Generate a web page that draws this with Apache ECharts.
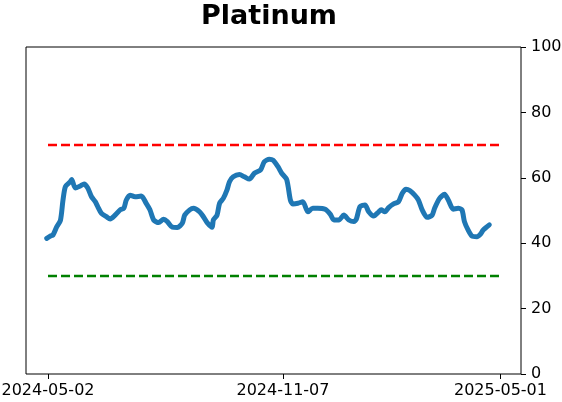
<!DOCTYPE html>
<html>
<head>
<meta charset="utf-8">
<script src="https://cdn.jsdelivr.net/npm/echarts@6/dist/echarts.min.js"></script>
<style>
  html, body { margin: 0; padding: 0; background: #fff; }
  #chart { width: 562px; height: 402px; }
</style>
</head>
<body>
<div id="chart"></div>
<script>
// Data
const dates = [
  '2024-05-01', '2024-05-04', '2024-05-06', '2024-05-09', '2024-05-12', '2024-05-14', '2024-05-16', '2024-05-20',
  '2024-05-21', '2024-05-24', '2024-05-28', '2024-05-31', '2024-06-03', '2024-06-06', '2024-06-09', '2024-06-11',
  '2024-06-14', '2024-06-18', '2024-06-21', '2024-06-25', '2024-06-29', '2024-07-02', '2024-07-04', '2024-07-07',
  '2024-07-11', '2024-07-16', '2024-07-20', '2024-07-23', '2024-07-26', '2024-07-30', '2024-08-03', '2024-08-06',
  '2024-08-10', '2024-08-14', '2024-08-18', '2024-08-20', '2024-08-24', '2024-08-27', '2024-09-01', '2024-09-04',
  '2024-09-07', '2024-09-11', '2024-09-12', '2024-09-15', '2024-09-17', '2024-09-20', '2024-09-23', '2024-09-25',
  '2024-09-28', '2024-10-03', '2024-10-07', '2024-10-11', '2024-10-15', '2024-10-20', '2024-10-23', '2024-10-27',
  '2024-10-30', '2024-11-03', '2024-11-06', '2024-11-10', '2024-11-13', '2024-11-15', '2024-11-19', '2024-11-23',
  '2024-11-27', '2024-12-01', '2024-12-05', '2024-12-11', '2024-12-15', '2024-12-18', '2024-12-22', '2024-12-26',
  '2024-12-30', '2025-01-03', '2025-01-05', '2025-01-08', '2025-01-12', '2025-01-15', '2025-01-19', '2025-01-23',
  '2025-01-25', '2025-01-28', '2025-01-31', '2025-02-04', '2025-02-08', '2025-02-11', '2025-02-14', '2025-02-17',
  '2025-02-21', '2025-02-24', '2025-02-27', '2025-03-03', '2025-03-07', '2025-03-09', '2025-03-13', '2025-03-17',
  '2025-03-20', '2025-03-24', '2025-03-28', '2025-03-31', '2025-04-02', '2025-04-05', '2025-04-08', '2025-04-12',
  '2025-04-15', '2025-04-17', '2025-04-20', '2025-04-22'
];
const values = [
  41.5, 42.2, 42.5, 45.0, 47.0, 53.0, 57.3, 58.8,
  59.5, 56.9, 57.5, 58.1, 56.9, 54.2, 52.7, 51.2,
  49.1, 48.1, 47.4, 48.6, 50.2, 50.7, 53.2, 54.7,
  54.2, 54.4, 52.2, 50.2, 47.1, 46.3, 47.3, 46.6,
  44.9, 44.8, 46.1, 48.6, 50.2, 50.7, 49.6, 48.1,
  46.3, 44.9, 47.1, 48.6, 52.2, 53.7, 56.3, 58.8,
  60.3, 61.0, 60.3, 59.6, 61.4, 62.4, 64.9, 65.7,
  65.4, 63.4, 61.4, 59.5, 53.2, 52.0, 52.2, 52.7,
  49.6, 50.7, 50.7, 50.4, 48.9, 47.1, 47.1, 48.6,
  47.1, 46.6, 47.3, 51.2, 51.7, 49.6, 48.3, 49.6,
  50.2, 49.6, 50.9, 52.0, 52.7, 55.3, 56.5, 56.1,
  54.7, 53.2, 50.2, 47.9, 48.6, 50.7, 53.7, 55.0,
  53.2, 50.4, 50.7, 50.2, 46.6, 44.0, 42.2, 42.0,
  42.8, 44.0, 45.0, 45.6
];
const tickLabels = ['2024-05-02', '2024-11-07', '2025-05-01'];
const upperLevel = 70;
const lowerLevel = 30;

const DAY = 864e5;
const start = Date.parse(tickLabels[0]);
const toDay = d => (Date.parse(d) - start) / DAY;
const tickDays = tickLabels.map(toDay);
const firstDay = tickDays[0];
const lastDay = tickDays[tickDays.length - 1];

const chart = echarts.init(document.getElementById('chart'));

chart.setOption({
  animation: false,
  title: {
    text: 'Platinum',
    left: 264,
    top: -2,
    textAlign: 'center',
    textStyle: { fontFamily: 'DejaVu Sans', fontWeight: 'bold', fontSize: 27, color: '#000' }
  },
  grid: {
    left: 26, right: 41, top: 47, bottom: 28,
    outerBoundsMode: 'none',
    containLabel: false,
    show: true, borderColor: '#000', borderWidth: 1, backgroundColor: '#fff'
  },
  xAxis: {
    type: 'value',
    min: -17.7,
    max: 380.5,
    splitLine: { show: false },
    axisLine: { show: false, onZero: false },
    axisTick: { show: true, customValues: tickDays, length: 5, lineStyle: { color: '#000' } },
    axisLabel: {
      customValues: tickDays,
      color: '#000',
      fontFamily: 'DejaVu Sans',
      fontSize: 16,
      margin: 9,
      formatter: v => tickLabels[tickDays.indexOf(v)] || ''
    }
  },
  yAxis: {
    type: 'value',
    position: 'right',
    min: 0,
    max: 100,
    interval: 20,
    splitLine: { show: false },
    axisLine: { show: false, onZero: false },
    axisTick: { show: true, length: 5, lineStyle: { color: '#000' } },
    axisLabel: { color: '#000', fontFamily: 'DejaVu Sans', fontSize: 16, margin: 10 }
  },
  series: [
    {
      type: 'line',
      data: [[firstDay, upperLevel], [lastDay, upperLevel]],
      showSymbol: false,
      lineStyle: { color: '#ff0000', width: 2.5, type: [9, 4] },
      z: 2
    },
    {
      type: 'line',
      data: [[firstDay, lowerLevel], [lastDay, lowerLevel]],
      showSymbol: false,
      lineStyle: { color: '#008000', width: 2.5, type: [9, 4] },
      z: 2
    },
    {
      type: 'line',
      data: dates.map((d, i) => [toDay(d), values[i]]),
      showSymbol: false,
      smooth: 0.25,
      lineStyle: { color: '#1f77b4', width: 5, cap: 'round', join: 'round' },
      z: 3
    }
  ]
});
</script>
</body>
</html>
